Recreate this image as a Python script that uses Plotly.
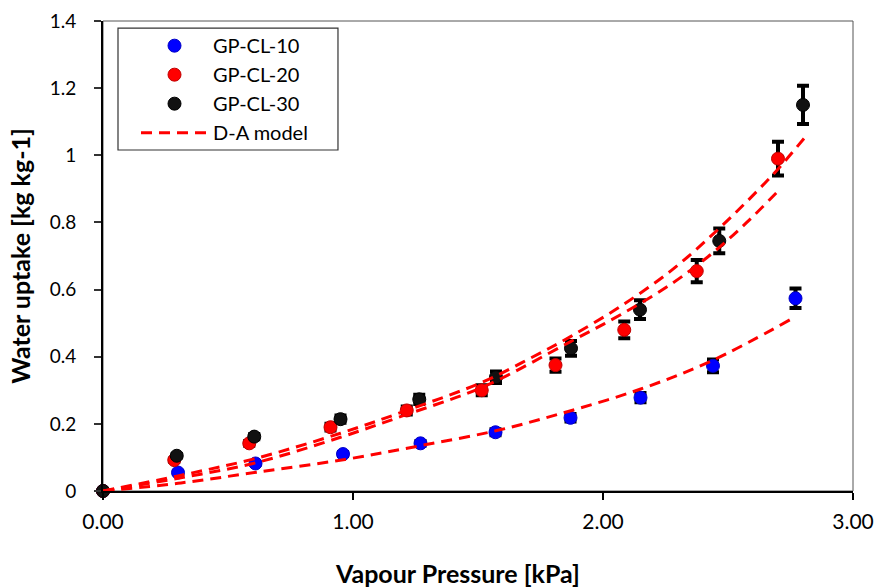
import plotly.graph_objects as go

# Measured water uptake for the three samples
p_cl10 = [0, 0.30, 0.61, 0.96, 1.27, 1.57, 1.87, 2.15, 2.44, 2.77]
w_cl10 = [0, 0.055, 0.082, 0.110, 0.142, 0.175, 0.218, 0.278, 0.373, 0.574]
e_cl10 = [0, 0.003, 0.004, 0.006, 0.007, 0.009, 0.011, 0.014, 0.019, 0.029]

p_cl20 = [0, 0.285, 0.585, 0.91, 1.215, 1.515, 1.81, 2.085, 2.375, 2.70]
w_cl20 = [0, 0.092, 0.142, 0.190, 0.240, 0.300, 0.375, 0.480, 0.655, 0.990]
e_cl20 = [0, 0.005, 0.007, 0.010, 0.012, 0.015, 0.020, 0.025, 0.033, 0.050]

p_cl30 = [0, 0.295, 0.605, 0.95, 1.265, 1.572, 1.872, 2.148, 2.465, 2.80]
w_cl30 = [0, 0.105, 0.162, 0.214, 0.273, 0.339, 0.425, 0.540, 0.745, 1.150]
e_cl30 = [0, 0.005, 0.008, 0.011, 0.014, 0.017, 0.022, 0.028, 0.037, 0.057]

# D-A model curves
da_p10 = [0, 0.30, 0.615, 0.968, 1.27, 1.575, 1.828, 2.148, 2.441, 2.748]
da_w10 = [0, 0.023, 0.056, 0.094, 0.135, 0.180, 0.230, 0.303, 0.390, 0.510]

da_p20 = [0, 0.30, 0.60, 0.95, 1.215, 1.52, 1.87, 2.07, 2.27, 2.44, 2.575, 2.70]
da_w20 = [0, 0.038, 0.082, 0.160, 0.228, 0.310, 0.445, 0.525, 0.615, 0.710, 0.800, 0.893]

da_p30 = [0, 0.30, 0.60, 0.95, 1.215, 1.52, 1.708, 1.87, 2.07, 2.27, 2.44, 2.575, 2.695, 2.804]
da_w30 = [0, 0.045, 0.095, 0.172, 0.240, 0.325, 0.395, 0.460, 0.550, 0.655, 0.765, 0.862, 0.955, 1.050]

x_ticks = [0, 1, 2, 3]
y_ticks = [0, 0.2, 0.4, 0.6, 0.8, 1.0, 1.2, 1.4]

FONT = "Lato"
series = [
    ("GP-CL-10", p_cl10, w_cl10, e_cl10, "#0000FF", "#0000C8"),
    ("GP-CL-20", p_cl20, w_cl20, e_cl20, "#FF0000", "#C00000"),
    ("GP-CL-30", p_cl30, w_cl30, e_cl30, "#111111", "#000000"),
]

fig = go.Figure()

# error bars first, so markers sit on top of them
for name, px, wy, ey, col, edge in series:
    fig.add_trace(go.Scatter(
        x=px, y=wy, mode="markers", showlegend=False, hoverinfo="skip",
        marker=dict(size=1, color="rgba(0,0,0,0)"),
        error_y=dict(type="data", array=ey, visible=True,
                     color="#000000", thickness=4, width=6),
    ))

# measured points
for i, (name, px, wy, ey, col, edge) in enumerate(series):
    fig.add_trace(go.Scatter(
        x=px, y=wy, mode="markers", name=name, legendrank=i + 1,
        cliponaxis=False,
        marker=dict(size=13, color=col, line=dict(width=1, color=edge)),
    ))

# model curves
for j, (dp, dw) in enumerate([(da_p10, da_w10), (da_p20, da_w20), (da_p30, da_w30)]):
    fig.add_trace(go.Scatter(
        x=dp, y=dw, mode="lines", name="D-A model", legendrank=10,
        legendgroup="da", showlegend=(j == 0), line_shape="spline",
        line=dict(color="#FF0000", width=3, dash="11px,7px"),
    ))

title_font = dict(family=FONT, size=25, color="#000000")

fig.update_layout(
    width=875, height=588,
    margin=dict(l=103, r=22, t=21, b=97),
    paper_bgcolor="white", plot_bgcolor="white",
    font=dict(family=FONT, color="#000000"),
    xaxis=dict(
        range=[0, 3], tickvals=x_ticks, tickformat=".2f", automargin=False,
        ticks="outside", ticklen=7, tickwidth=1.5, tickcolor="#000000",
        showline=True, linecolor="#000000", linewidth=2,
        showgrid=False, zeroline=False,
        tickfont=dict(family=FONT, size=21), ticklabelstandoff=4,
    ),
    yaxis=dict(
        range=[0, 1.4], tickvals=y_ticks, automargin=False,
        ticks="outside", ticklen=7, tickwidth=1.5, tickcolor="#333333",
        showline=True, linecolor="#000000", linewidth=2,
        showgrid=False, zeroline=False,
        tickfont=dict(family=FONT, size=19), ticklabelstandoff=14,
        title=dict(text="<b>Water uptake [kg kg-1]</b>", font=title_font, standoff=12),
    ),
    xaxis2=dict(
        overlaying="x", anchor="y", side="bottom", range=[0, 3], tickvals=x_ticks,
        ticks="inside", ticklen=7, tickwidth=1.5, tickcolor="#000000",
        showticklabels=False, showline=False, showgrid=False, zeroline=False,
    ),
    yaxis2=dict(
        overlaying="y", anchor="x", side="left", range=[0, 1.4], tickvals=y_ticks,
        ticks="inside", ticklen=7, tickwidth=1.5, tickcolor="#333333",
        showticklabels=False, showline=False, showgrid=False, zeroline=False,
    ),
    legend=dict(
        x=0.02, y=0.989, xanchor="left", yanchor="top",
        bgcolor="rgba(0,0,0,0)", borderwidth=0, indentation=18,
        font=dict(family=FONT, size=20, color="#000000"),
        itemwidth=67, tracegroupgap=0,
    ),
    annotations=[
        dict(text="<b>Vapour Pressure [kPa]</b>", xref="paper", yref="paper",
             x=0.473, y=-0.1745, xanchor="center", yanchor="middle",
             showarrow=False, font=title_font),
    ],
    shapes=[
        # plot frame (top and right edges)
        dict(type="rect", xref="paper", yref="paper", x0=0, x1=1, y0=0, y1=1,
             line=dict(color="#555555", width=1), layer="below"),
        # legend box
        dict(type="rect", xref="paper", yref="paper", x0=0.02, x1=0.3133,
             y0=0.7255, y1=0.985, fillcolor="white",
             line=dict(color="#333333", width=1.2), layer="above"),
    ],
)

fig.write_html("out.html")
